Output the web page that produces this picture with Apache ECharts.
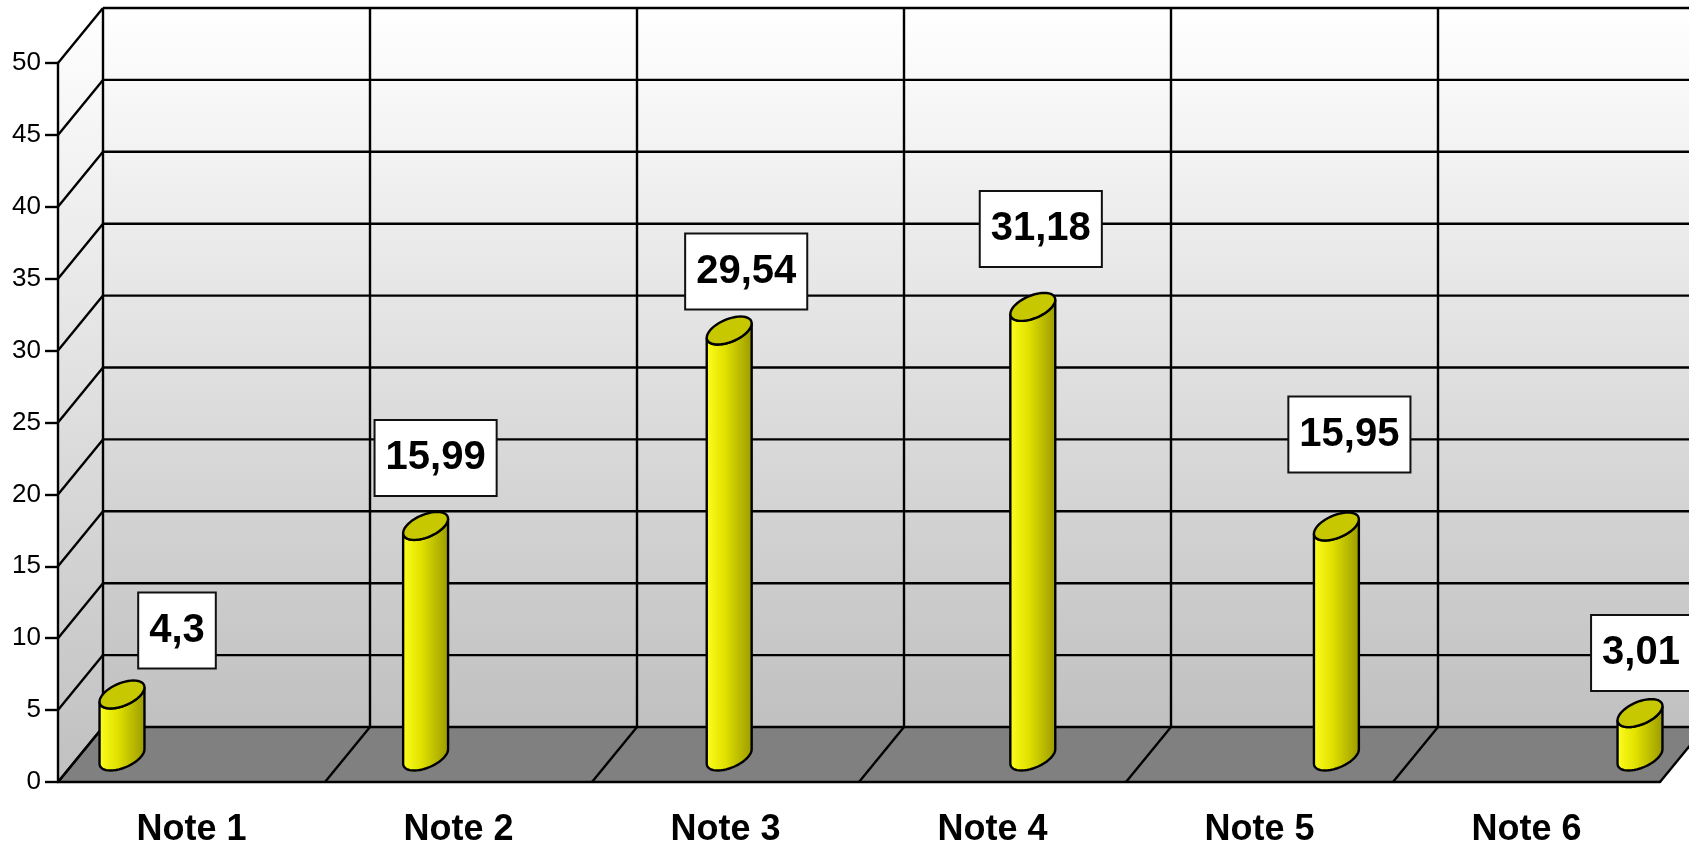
<!DOCTYPE html>
<html lang="en">
<head>
  <meta charset="UTF-8">
  <title>Notes</title>
  <script src="https://cdn.jsdelivr.net/npm/echarts@6/dist/echarts.min.js"></script>
  <style>
    html, body { margin: 0; padding: 0; background: #fff; }
    #main { width: 1689px; height: 848px; }
  </style>
</head>
<body>
<div id="main"></div>
<script type="text/javascript">
  var categories = ['Note 1', 'Note 2', 'Note 3', 'Note 4', 'Note 5', 'Note 6'];
  var values = [4.3, 15.99, 29.54, 31.18, 15.95, 3.01];
  var yTicks = [0, 5, 10, 15, 20, 25, 30, 35, 40, 45, 50];

  // layout only: where each value box sits relative to the top of its cylinder (px)
  var labelShift = [[55, -64], [10, -68], [17, -59], [8, -78], [13, -92], [1, -60]];

  // depth of the walls (oblique offset, px)
  var DX = 45, DY = -55;
  // cylinder ellipse: half width, depth vector
  var R = 19.3, BX = 11.5, BY = -14;
  var T0 = Math.atan2(BX, R);

  var myChart = echarts.init(document.getElementById('main'));

  function lineStyle() {
    return { stroke: '#000', lineWidth: 2.4 };
  }

  function wallGradient() {
    return new echarts.graphic.LinearGradient(0, 0, 0, 1, [
      { offset: 0, color: '#ffffff' },
      { offset: 1, color: '#c0c0c0' }
    ]);
  }

  // back wall, side wall, floor and their grid lines
  function renderWalls(params, api) {
    var cs = params.coordSys;
    var x0 = cs.x, x1 = cs.x + cs.width, yt = cs.y, yb = cs.y + cs.height;
    var band = cs.width / categories.length;
    var kids = [];
    kids.push({ type: 'rect', shape: { x: x0 + DX, y: yt + DY, width: cs.width, height: cs.height }, style: { fill: wallGradient() } });
    kids.push({ type: 'polygon', shape: { points: [[x0, yb], [x0, yt], [x0 + DX, yt + DY], [x0 + DX, yb + DY]] }, style: { fill: wallGradient() } });
    kids.push({ type: 'polygon', shape: { points: [[x0, yb], [x1, yb], [x1 + DX, yb + DY], [x0 + DX, yb + DY]] }, style: { fill: '#808080' } });
    yTicks.forEach(function (v) {
      var y = api.coord([0, v])[1];
      kids.push({ type: 'line', shape: { x1: x0, y1: y, x2: x0 + DX, y2: y + DY }, style: lineStyle() });
      kids.push({ type: 'line', shape: { x1: x0 + DX, y1: y + DY, x2: x1 + DX, y2: y + DY }, style: lineStyle() });
    });
    for (var k = 0; k <= categories.length; k++) {
      var x = x0 + band * k;
      kids.push({ type: 'line', shape: { x1: x + DX, y1: yt + DY, x2: x + DX, y2: yb + DY }, style: lineStyle() });
      kids.push({ type: 'line', shape: { x1: x, y1: yb, x2: x + DX, y2: yb + DY }, style: lineStyle() });
    }
    return { type: 'group', children: kids };
  }

  function ellipsePts(c, t0, t1, n) {
    var pts = [];
    for (var k = 0; k <= n; k++) {
      var t = t0 + (t1 - t0) * k / n;
      pts.push([c[0] + R * Math.cos(t) + BX * Math.sin(t), c[1] + BY * Math.sin(t)]);
    }
    return pts;
  }

  function renderCylinder(params, api) {
    var i = api.value(0), v = api.value(1);
    var base = api.coord([i, 0]);
    var top = api.coord([i, v]);
    var body = ellipsePts(base, T0 + Math.PI, T0 + 2 * Math.PI, 24)
      .concat(ellipsePts(top, T0 + 2 * Math.PI, T0 + Math.PI, 24));
    var shift = labelShift[params.dataIndex];
    return {
      type: 'group',
      children: [
        {
          type: 'polygon', shape: { points: body },
          style: {
            fill: new echarts.graphic.LinearGradient(0, 0, 1, 0, [
              { offset: 0, color: '#ffff20' },
              { offset: 0.4, color: '#e2e200' },
              { offset: 1, color: '#999900' }
            ]),
            stroke: '#000', lineWidth: 2.4
          }
        },
        {
          type: 'polygon', shape: { points: ellipsePts(top, 0, 2 * Math.PI, 48) },
          style: { fill: '#c8c800', stroke: '#000', lineWidth: 2.4 }
        },
        {
          type: 'text',
          style: {
            text: String(v).replace('.', ','),
            x: top[0] + shift[0], y: top[1] + shift[1],
            align: 'center', verticalAlign: 'middle',
            font: 'bold 40px "Liberation Sans", Arial, sans-serif',
            fill: '#000',
            backgroundColor: '#fff', borderColor: '#111', borderWidth: 2,
            padding: [17, 10, 17, 10]
          }
        }
      ]
    };
  }

  var option = {
    animation: false,
    backgroundColor: '#fff',
    grid: [
      { left: 58, top: 63, width: 1602, height: 721 },
      { left: 122, top: 35.5, width: 1518, height: 721 }
    ],
    xAxis: [
      {
        type: 'category', gridIndex: 0, data: categories, z: 5,
        axisLine: { lineStyle: { color: '#000', width: 2.4 } },
        axisTick: { show: false },
        axisLabel: { color: '#000', fontSize: 36, fontWeight: 'bold', fontFamily: 'Liberation Sans', margin: 30 }
      },
      { type: 'category', gridIndex: 1, data: categories, boundaryGap: false, show: false }
    ],
    yAxis: [
      {
        type: 'value', gridIndex: 0, min: 0, max: 50, interval: 5, z: 5,
        axisLine: { show: true, lineStyle: { color: '#000', width: 2.4 } },
        axisTick: { show: true, length: 13, lineStyle: { color: '#000', width: 2.4 } },
        axisLabel: { color: '#000', fontSize: 26, fontFamily: 'Liberation Sans', margin: 17 },
        splitLine: { show: false }
      },
      { type: 'value', gridIndex: 1, min: 0, max: 50, show: false }
    ],
    series: [
      {
        type: 'custom', xAxisIndex: 0, yAxisIndex: 0, z: 1, silent: true,
        data: [[0, 0]],
        renderItem: renderWalls
      },
      {
        type: 'custom', xAxisIndex: 1, yAxisIndex: 1, z: 3,
        data: values.map(function (v, i) { return [i, v]; }),
        renderItem: renderCylinder
      }
    ]
  };
  myChart.setOption(option);
</script>
</body>
</html>
